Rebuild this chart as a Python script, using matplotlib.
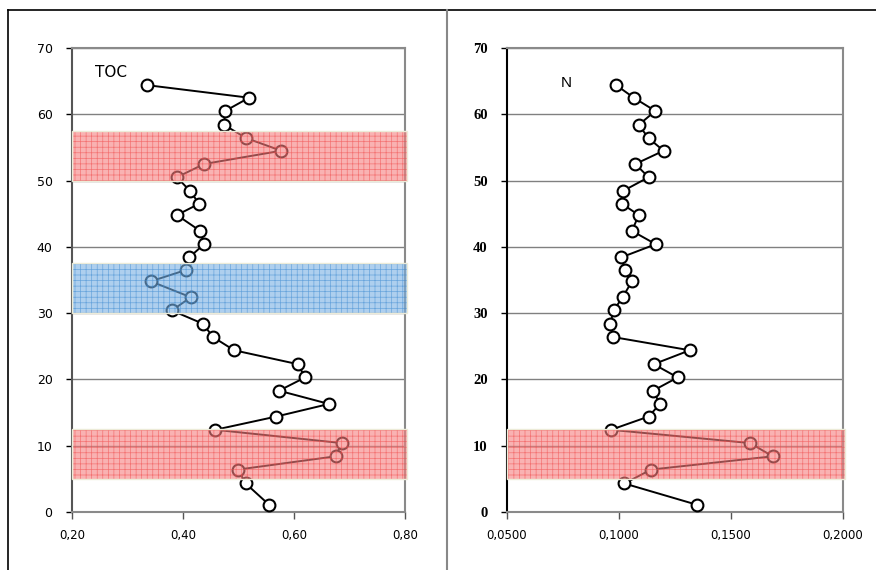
import matplotlib.pyplot as plt
from matplotlib.ticker import FuncFormatter, MultipleLocator
from matplotlib.lines import Line2D

# depth of each sample
depth = [64.4, 62.5, 60.5, 58.4, 56.4, 54.5, 52.5, 50.5, 48.4, 46.5, 44.8, 42.4,
         40.4, 38.4, 36.5, 34.8, 32.4, 30.4, 28.4, 26.4, 24.4, 22.3, 20.3, 18.3,
         16.3, 14.4, 12.4, 10.4, 8.4, 6.4, 4.3, 1.1]

toc = [0.335, 0.519, 0.476, 0.474, 0.514, 0.577, 0.438, 0.389, 0.413, 0.429, 0.389, 0.431,
       0.438, 0.411, 0.405, 0.342, 0.414, 0.380, 0.436, 0.454, 0.492, 0.607, 0.620, 0.573,
       0.663, 0.568, 0.458, 0.686, 0.675, 0.499, 0.513, 0.555]

n = [0.0987, 0.1066, 0.1162, 0.1088, 0.1132, 0.1199, 0.1073, 0.1132, 0.1016, 0.1013, 0.1088, 0.1058,
     0.1164, 0.1009, 0.1028, 0.1058, 0.1016, 0.0976, 0.0961, 0.0973, 0.1316, 0.1155, 0.1262, 0.1152,
     0.1183, 0.1132, 0.0964, 0.1585, 0.1686, 0.1143, 0.1024, 0.1347]

toc_red = [(50, 57.5), (5, 12.5)]
toc_blue = [(30, 37.5)]
n_red = [(5, 12.5)]

plt.rcParams['hatch.linewidth'] = 0.5

fig = plt.figure(figsize=(8.76, 5.70), dpi=100)

# outer frame and divider
fig.add_artist(Line2D([8 / 876, 1], [1 - 10 / 570] * 2, color='black', lw=1.2))
fig.add_artist(Line2D([8 / 876] * 2, [0, 1 - 10 / 570], color='black', lw=1.2))
fig.add_artist(Line2D([447 / 876] * 2, [0, 1 - 10 / 570], color='#888888', lw=1.5))

ax1 = fig.add_axes([72 / 876, 1 - 512 / 570, 333 / 876, 464 / 570])
ax2 = fig.add_axes([507 / 876, 1 - 512 / 570, 336 / 876, 464 / 570])


def comma(digits):
    return FuncFormatter(lambda v, p: f'{v:.{digits}f}'.replace('.', ','))


def band(ax, lo, hi, face, hatch_col):
    ax.axhspan(lo, hi, xmin=0, xmax=1.006, facecolor=face, edgecolor=hatch_col,
               hatch='+++', lw=0, alpha=0.6, zorder=4, clip_on=False)
    ax.axhspan(lo, hi, xmin=0, xmax=1.006, facecolor='none', edgecolor='#ecebd8',
               lw=1.0, zorder=4, clip_on=False)


for ax, xs in [(ax1, toc), (ax2, n)]:
    ax.plot(xs, depth, color='black', lw=1.4, marker='o', ms=8.5, mfc='white',
            mec='black', mew=1.5, zorder=3)
    ax.set_ylim(0, 70)
    ax.yaxis.set_major_locator(MultipleLocator(10))
    ax.grid(axis='y', color='#808080', lw=1.0, zorder=1)
    ax.set_axisbelow(True)
    for s in ['top', 'right', 'bottom']:
        ax.spines[s].set_color('#8a8a8a')
        ax.spines[s].set_linewidth(1.5)
    ax.tick_params(axis='y', length=4, width=1, direction='out', pad=10)
    ax.tick_params(axis='x', length=5, width=1, direction='out', color='#555555', pad=7,
                   labelsize=8.5)

for lo, hi in toc_red:
    band(ax1, lo, hi, '#f58080', '#f04848')
for lo, hi in toc_blue:
    band(ax1, lo, hi, '#78b0e4', '#3a88d0')
for lo, hi in n_red:
    band(ax2, lo, hi, '#f58080', '#f04848')

ax1.set_xlim(0.20, 0.80)
ax1.set_xticks([0.20, 0.40, 0.60, 0.80])
ax1.xaxis.set_major_formatter(comma(2))
ax1.spines['left'].set_color('#555555')
ax1.spines['left'].set_linewidth(1.5)
ax1.tick_params(axis='y', labelsize=9)
ax1.text(0.07, 0.948, 'TOC', transform=ax1.transAxes, fontsize=11, va='center')

ax2.set_xlim(0.05, 0.20)
ax2.set_xticks([0.05, 0.10, 0.15, 0.20])
ax2.xaxis.set_major_formatter(comma(4))
ax2.spines['left'].set_color('black')
ax2.spines['left'].set_linewidth(1.5)
for lab in ax2.get_yticklabels():
    lab.set_fontfamily('Liberation Serif')
    lab.set_fontweight('bold')
    lab.set_fontsize(10.5)
ax2.text(0.16, 0.925, 'N', transform=ax2.transAxes, fontsize=11,
         family='Liberation Sans', va='center')

plt.savefig('out.png', dpi=100)
